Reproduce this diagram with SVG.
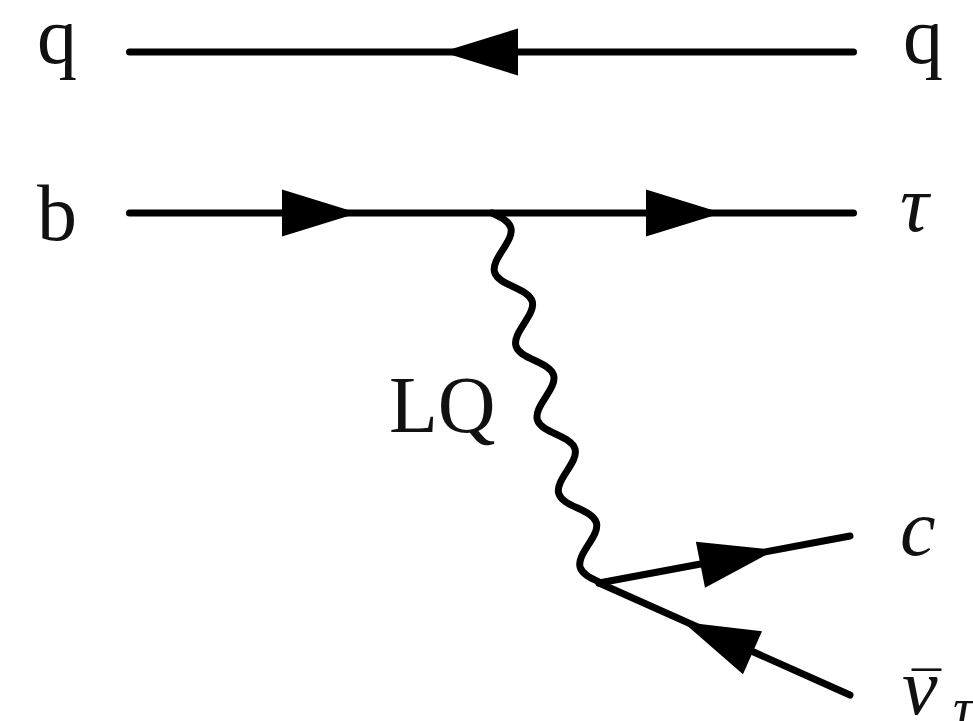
<svg xmlns="http://www.w3.org/2000/svg" xmlns:xlink="http://www.w3.org/1999/xlink" width="973" height="721" viewBox="0 0 973 721">
<style>
.ln{fill:none;stroke:#000;stroke-width:7;stroke-linecap:round;stroke-linejoin:round}
.lb{font-size:80px;fill:#111}
.it{font-style:italic}
</style>
<defs>
<path id="ah" d="M0,0 L-76,-23.5 L-76,23.5 Z" fill="#000"/>
</defs>
<rect width="973" height="721" fill="#fff"/>
<g id="connectors">
<path class="ln" d="M129.5,52 H853.5"/>
<path class="ln" d="M129.5,213 H853.5"/>
<path class="ln" d="M599,583 L850,536"/>
<path class="ln" d="M599,583 L850,695"/>
<path class="ln" transform="translate(492,213) rotate(73.83)" d="M0,0 c6.26,-7.18 12.25,-14 19.2,-14 s12.94,6.82 19.2,14 s12.25,14 19.2,14 s12.94,-6.82 19.2,-14 s12.25,-14 19.2,-14 s12.94,6.82 19.2,14 s12.25,14 19.2,14 s12.94,-6.82 19.2,-14 s12.25,-14 19.2,-14 s12.94,6.82 19.2,14 s12.25,14 19.2,14 s12.94,-6.82 19.2,-14 s12.25,-14 19.2,-14 s12.94,6.82 19.2,14 s12.25,14 19.2,14 s12.94,-6.82 19.2,-14 s12.25,-14 19.2,-14 s12.94,6.82 19.2,14 s12.25,14 19.2,14 s12.94,-6.82 19.2,-14"/>
<use href="#ah" xlink:href="#ah" transform="translate(442,52) rotate(180)"/>
<use href="#ah" xlink:href="#ah" transform="translate(358,213)"/>
<use href="#ah" xlink:href="#ah" transform="translate(722,213)"/>
<use href="#ah" xlink:href="#ah" transform="translate(775,550) rotate(-11.2)"/>
<use href="#ah" xlink:href="#ah" transform="translate(683,622) rotate(203.9)"/>
</g>
<g font-family="Liberation Serif, Times New Roman, serif">
<g id="q-in"><text class="lb" x="37" y="63">q</text></g>
<g id="q-out"><text class="lb" x="903" y="63">q</text></g>
<g id="b-in"><text class="lb" x="37" y="240">b</text></g>
<g id="tau-out"><text class="lb it" x="900" y="231">τ</text></g>
<g id="lq"><text class="lb" x="389" y="432">LQ</text></g>
<g id="c-out"><text class="lb it" x="900" y="555">c</text></g>
<g id="nubar-out"><text class="lb"><tspan x="912" y="712" font-size="58">¯</tspan><tspan class="it" x="902" y="714">ν</tspan><tspan class="it" x="953" y="727" font-size="56">τ</tspan></text></g>
</g>
</svg>
